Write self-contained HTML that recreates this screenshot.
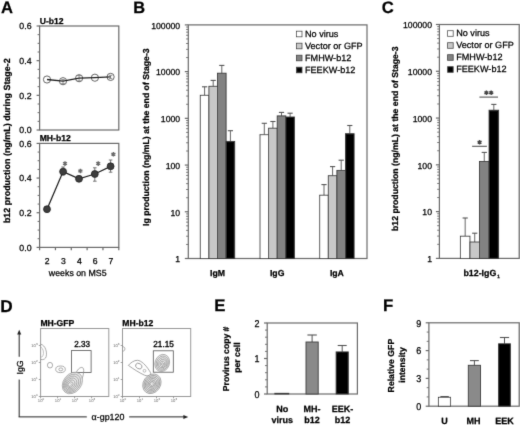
<!DOCTYPE html>
<html><head><meta charset="utf-8"><style>
html,body{margin:0;padding:0;background:#fff;}
svg{display:block;font-family:"Liberation Sans",sans-serif;text-rendering:geometricPrecision;}
</style></head><body>
<svg width="520" height="425" viewBox="0 0 520 425">
<defs><filter id="bl" x="0" y="0" width="520" height="425" filterUnits="userSpaceOnUse"><feConvolveMatrix order="3" kernelMatrix="0.0100 0.0800 0.0100 0.0800 0.6400 0.0800 0.0100 0.0800 0.0100" edgeMode="duplicate" preserveAlpha="false"/></filter></defs>
<rect width="520" height="425" fill="#fff"/>
<g filter="url(#bl)">
<text x="1.00" y="12.80" font-size="16.6" text-anchor="start" font-weight="bold" fill="#000" stroke="#000" stroke-width="0.25">A</text>
<text x="133.20" y="12.80" font-size="16.4" text-anchor="start" font-weight="bold" fill="#000" stroke="#000" stroke-width="0.25">B</text>
<text x="381.70" y="12.80" font-size="16.6" text-anchor="start" font-weight="bold" fill="#000" stroke="#000" stroke-width="0.25">C</text>
<text x="0.30" y="311.90" font-size="17.2" text-anchor="start" font-weight="bold" fill="#000" stroke="#000" stroke-width="0.25">D</text>
<text x="214.20" y="310.90" font-size="16.8" text-anchor="start" font-weight="bold" fill="#000" stroke="#000" stroke-width="0.25">E</text>
<text x="382.90" y="310.90" font-size="16.8" text-anchor="start" font-weight="bold" fill="#000" stroke="#000" stroke-width="0.25">F</text>
<rect x="39.60" y="26.00" width="79.20" height="104.00" fill="none" stroke="#6a6a6a" stroke-width="1.2"/>
<text x="39.70" y="23.70" font-size="8.6" text-anchor="start" font-weight="bold" fill="#000" stroke="#000" stroke-width="0.25">U-b12</text>
<line x1="36.60" y1="26.00" x2="39.60" y2="26.00" stroke="#6a6a6a" stroke-width="1.2"/>
<text x="31.60" y="29.20" font-size="8.8" text-anchor="end" fill="#000" stroke="#000" stroke-width="0.25">0.6</text>
<line x1="37.60" y1="34.67" x2="39.60" y2="34.67" stroke="#6a6a6a" stroke-width="1.0"/>
<line x1="37.60" y1="43.33" x2="39.60" y2="43.33" stroke="#6a6a6a" stroke-width="1.0"/>
<line x1="37.60" y1="52.00" x2="39.60" y2="52.00" stroke="#6a6a6a" stroke-width="1.0"/>
<line x1="36.60" y1="60.67" x2="39.60" y2="60.67" stroke="#6a6a6a" stroke-width="1.2"/>
<text x="31.60" y="63.87" font-size="8.8" text-anchor="end" fill="#000" stroke="#000" stroke-width="0.25">0.4</text>
<line x1="37.60" y1="69.33" x2="39.60" y2="69.33" stroke="#6a6a6a" stroke-width="1.0"/>
<line x1="37.60" y1="78.00" x2="39.60" y2="78.00" stroke="#6a6a6a" stroke-width="1.0"/>
<line x1="37.60" y1="86.67" x2="39.60" y2="86.67" stroke="#6a6a6a" stroke-width="1.0"/>
<line x1="36.60" y1="95.33" x2="39.60" y2="95.33" stroke="#6a6a6a" stroke-width="1.2"/>
<text x="31.60" y="98.53" font-size="8.8" text-anchor="end" fill="#000" stroke="#000" stroke-width="0.25">0.2</text>
<line x1="37.60" y1="104.00" x2="39.60" y2="104.00" stroke="#6a6a6a" stroke-width="1.0"/>
<line x1="37.60" y1="112.67" x2="39.60" y2="112.67" stroke="#6a6a6a" stroke-width="1.0"/>
<line x1="37.60" y1="121.33" x2="39.60" y2="121.33" stroke="#6a6a6a" stroke-width="1.0"/>
<line x1="36.60" y1="130.00" x2="39.60" y2="130.00" stroke="#6a6a6a" stroke-width="1.2"/>
<text x="31.60" y="133.20" font-size="8.8" text-anchor="end" fill="#000" stroke="#000" stroke-width="0.25">0.0</text>
<line x1="63.00" y1="79.60" x2="63.00" y2="83.60" stroke="#888" stroke-width="0.9"/>
<line x1="61.20" y1="79.60" x2="64.80" y2="79.60" stroke="#888" stroke-width="0.9"/>
<line x1="61.20" y1="83.60" x2="64.80" y2="83.60" stroke="#888" stroke-width="0.9"/>
<line x1="79.10" y1="75.60" x2="79.10" y2="80.90" stroke="#888" stroke-width="0.9"/>
<line x1="77.30" y1="75.60" x2="80.90" y2="75.60" stroke="#888" stroke-width="0.9"/>
<line x1="77.30" y1="80.90" x2="80.90" y2="80.90" stroke="#888" stroke-width="0.9"/>
<line x1="110.60" y1="75.30" x2="110.60" y2="78.60" stroke="#888" stroke-width="0.9"/>
<line x1="108.80" y1="75.30" x2="112.40" y2="75.30" stroke="#888" stroke-width="0.9"/>
<line x1="108.80" y1="78.60" x2="112.40" y2="78.60" stroke="#888" stroke-width="0.9"/>
<circle cx="47.00" cy="79.50" r="3.6" fill="none" stroke="#555" stroke-width="0.9"/>
<circle cx="63.00" cy="81.20" r="3.6" fill="none" stroke="#555" stroke-width="0.9"/>
<circle cx="79.10" cy="78.20" r="3.6" fill="none" stroke="#555" stroke-width="0.9"/>
<circle cx="94.90" cy="77.70" r="3.6" fill="none" stroke="#555" stroke-width="0.9"/>
<circle cx="110.60" cy="76.90" r="3.6" fill="none" stroke="#555" stroke-width="0.9"/>
<path d="M47.00,79.50 L63.00,81.20 L79.10,78.20 L94.90,77.70 L110.60,76.90" fill="none" stroke="#222" stroke-width="1.3"/>
<rect x="39.60" y="143.40" width="79.20" height="104.00" fill="none" stroke="#6a6a6a" stroke-width="1.2"/>
<text x="39.70" y="140.90" font-size="8.6" text-anchor="start" font-weight="bold" fill="#000" stroke="#000" stroke-width="0.25">MH-b12</text>
<line x1="36.60" y1="143.40" x2="39.60" y2="143.40" stroke="#6a6a6a" stroke-width="1.2"/>
<text x="31.60" y="146.60" font-size="8.8" text-anchor="end" fill="#000" stroke="#000" stroke-width="0.25">0.6</text>
<line x1="37.60" y1="152.07" x2="39.60" y2="152.07" stroke="#6a6a6a" stroke-width="1.0"/>
<line x1="37.60" y1="160.73" x2="39.60" y2="160.73" stroke="#6a6a6a" stroke-width="1.0"/>
<line x1="37.60" y1="169.40" x2="39.60" y2="169.40" stroke="#6a6a6a" stroke-width="1.0"/>
<line x1="36.60" y1="178.07" x2="39.60" y2="178.07" stroke="#6a6a6a" stroke-width="1.2"/>
<text x="31.60" y="181.27" font-size="8.8" text-anchor="end" fill="#000" stroke="#000" stroke-width="0.25">0.4</text>
<line x1="37.60" y1="186.73" x2="39.60" y2="186.73" stroke="#6a6a6a" stroke-width="1.0"/>
<line x1="37.60" y1="195.40" x2="39.60" y2="195.40" stroke="#6a6a6a" stroke-width="1.0"/>
<line x1="37.60" y1="204.07" x2="39.60" y2="204.07" stroke="#6a6a6a" stroke-width="1.0"/>
<line x1="36.60" y1="212.73" x2="39.60" y2="212.73" stroke="#6a6a6a" stroke-width="1.2"/>
<text x="31.60" y="215.93" font-size="8.8" text-anchor="end" fill="#000" stroke="#000" stroke-width="0.25">0.2</text>
<line x1="37.60" y1="221.40" x2="39.60" y2="221.40" stroke="#6a6a6a" stroke-width="1.0"/>
<line x1="37.60" y1="230.07" x2="39.60" y2="230.07" stroke="#6a6a6a" stroke-width="1.0"/>
<line x1="37.60" y1="238.73" x2="39.60" y2="238.73" stroke="#6a6a6a" stroke-width="1.0"/>
<line x1="36.60" y1="247.40" x2="39.60" y2="247.40" stroke="#6a6a6a" stroke-width="1.2"/>
<text x="31.60" y="250.60" font-size="8.8" text-anchor="end" fill="#000" stroke="#000" stroke-width="0.25">0.0</text>
<line x1="63.10" y1="167.00" x2="63.10" y2="175.00" stroke="#666" stroke-width="0.9"/>
<line x1="61.30" y1="167.00" x2="64.90" y2="167.00" stroke="#666" stroke-width="0.9"/>
<line x1="61.30" y1="175.00" x2="64.90" y2="175.00" stroke="#666" stroke-width="0.9"/>
<line x1="79.00" y1="176.50" x2="79.00" y2="181.50" stroke="#666" stroke-width="0.9"/>
<line x1="77.20" y1="176.50" x2="80.80" y2="176.50" stroke="#666" stroke-width="0.9"/>
<line x1="77.20" y1="181.50" x2="80.80" y2="181.50" stroke="#666" stroke-width="0.9"/>
<line x1="94.80" y1="167.80" x2="94.80" y2="181.20" stroke="#666" stroke-width="0.9"/>
<line x1="93.00" y1="167.80" x2="96.60" y2="167.80" stroke="#666" stroke-width="0.9"/>
<line x1="93.00" y1="181.20" x2="96.60" y2="181.20" stroke="#666" stroke-width="0.9"/>
<line x1="110.60" y1="160.00" x2="110.60" y2="172.20" stroke="#666" stroke-width="0.9"/>
<line x1="108.80" y1="160.00" x2="112.40" y2="160.00" stroke="#666" stroke-width="0.9"/>
<line x1="108.80" y1="172.20" x2="112.40" y2="172.20" stroke="#666" stroke-width="0.9"/>
<path d="M47.00,209.20 L63.10,171.60 L79.00,178.80 L94.80,174.00 L110.60,166.30" fill="none" stroke="#222" stroke-width="1.3"/>
<circle cx="47.00" cy="209.20" r="3.45" fill="#3c3c3c" stroke="#222" stroke-width="0.8"/>
<circle cx="63.10" cy="171.60" r="3.45" fill="#3c3c3c" stroke="#222" stroke-width="0.8"/>
<circle cx="79.00" cy="178.80" r="3.45" fill="#3c3c3c" stroke="#222" stroke-width="0.8"/>
<circle cx="94.80" cy="174.00" r="3.45" fill="#3c3c3c" stroke="#222" stroke-width="0.8"/>
<circle cx="110.60" cy="166.30" r="3.45" fill="#3c3c3c" stroke="#222" stroke-width="0.8"/>
<path d="M65.00,161.30 L65.00,165.90 M63.01,162.45 L66.99,164.75 M63.01,164.75 L66.99,162.45" stroke="#6a6a6a" stroke-width="1.4" fill="none"/>
<circle cx="65.00" cy="163.60" r="1.0" fill="#6a6a6a"/>
<path d="M80.40,168.70 L80.40,173.30 M78.41,169.85 L82.39,172.15 M78.41,172.15 L82.39,169.85" stroke="#6a6a6a" stroke-width="1.4" fill="none"/>
<circle cx="80.40" cy="171.00" r="1.0" fill="#6a6a6a"/>
<path d="M98.20,161.30 L98.20,165.90 M96.21,162.45 L100.19,164.75 M96.21,164.75 L100.19,162.45" stroke="#6a6a6a" stroke-width="1.4" fill="none"/>
<circle cx="98.20" cy="163.60" r="1.0" fill="#6a6a6a"/>
<path d="M113.40,151.90 L113.40,156.50 M111.41,153.05 L115.39,155.35 M111.41,155.35 L115.39,153.05" stroke="#6a6a6a" stroke-width="1.4" fill="none"/>
<circle cx="113.40" cy="154.20" r="1.0" fill="#6a6a6a"/>
<line x1="39.60" y1="247.40" x2="39.60" y2="250.20" stroke="#6a6a6a" stroke-width="1.2"/>
<line x1="55.44" y1="247.40" x2="55.44" y2="250.20" stroke="#6a6a6a" stroke-width="1.2"/>
<line x1="71.28" y1="247.40" x2="71.28" y2="250.20" stroke="#6a6a6a" stroke-width="1.2"/>
<line x1="87.12" y1="247.40" x2="87.12" y2="250.20" stroke="#6a6a6a" stroke-width="1.2"/>
<line x1="102.96" y1="247.40" x2="102.96" y2="250.20" stroke="#6a6a6a" stroke-width="1.2"/>
<line x1="118.80" y1="247.40" x2="118.80" y2="250.20" stroke="#6a6a6a" stroke-width="1.2"/>
<text x="47.20" y="263.80" font-size="8.6" text-anchor="middle" fill="#000" stroke="#000" stroke-width="0.25">2</text>
<text x="63.30" y="263.80" font-size="8.6" text-anchor="middle" fill="#000" stroke="#000" stroke-width="0.25">3</text>
<text x="79.30" y="263.80" font-size="8.6" text-anchor="middle" fill="#000" stroke="#000" stroke-width="0.25">4</text>
<text x="95.20" y="263.80" font-size="8.6" text-anchor="middle" fill="#000" stroke="#000" stroke-width="0.25">6</text>
<text x="110.90" y="263.80" font-size="8.6" text-anchor="middle" fill="#000" stroke="#000" stroke-width="0.25">7</text>
<text x="77.70" y="276.30" font-size="8.8" text-anchor="middle" fill="#000" stroke="#000" stroke-width="0.25">weeks on MS5</text>
<text transform="translate(9.70,140.70) rotate(-90)" x="0" y="0" font-size="8.95" text-anchor="middle" font-weight="bold" fill="#000" stroke="#000" stroke-width="0.25">b12 production (ng/mL) during Stage-2</text>
<rect x="188.30" y="24.90" width="178.70" height="233.60" fill="none" stroke="#6a6a6a" stroke-width="1.2"/>
<line x1="184.80" y1="258.50" x2="188.30" y2="258.50" stroke="#6a6a6a" stroke-width="1.2"/>
<text x="180.20" y="262.30" font-size="8.7" text-anchor="end" fill="#000" stroke="#000" stroke-width="0.25">1</text>
<line x1="186.10" y1="244.44" x2="188.30" y2="244.44" stroke="#6a6a6a" stroke-width="0.9"/>
<line x1="186.10" y1="236.21" x2="188.30" y2="236.21" stroke="#6a6a6a" stroke-width="0.9"/>
<line x1="186.10" y1="230.37" x2="188.30" y2="230.37" stroke="#6a6a6a" stroke-width="0.9"/>
<line x1="186.10" y1="225.84" x2="188.30" y2="225.84" stroke="#6a6a6a" stroke-width="0.9"/>
<line x1="186.10" y1="222.14" x2="188.30" y2="222.14" stroke="#6a6a6a" stroke-width="0.9"/>
<line x1="186.10" y1="219.02" x2="188.30" y2="219.02" stroke="#6a6a6a" stroke-width="0.9"/>
<line x1="186.10" y1="216.31" x2="188.30" y2="216.31" stroke="#6a6a6a" stroke-width="0.9"/>
<line x1="186.10" y1="213.92" x2="188.30" y2="213.92" stroke="#6a6a6a" stroke-width="0.9"/>
<line x1="184.80" y1="211.78" x2="188.30" y2="211.78" stroke="#6a6a6a" stroke-width="1.2"/>
<text x="180.20" y="215.58" font-size="8.7" text-anchor="end" fill="#000" stroke="#000" stroke-width="0.25">10</text>
<line x1="186.10" y1="197.72" x2="188.30" y2="197.72" stroke="#6a6a6a" stroke-width="0.9"/>
<line x1="186.10" y1="189.49" x2="188.30" y2="189.49" stroke="#6a6a6a" stroke-width="0.9"/>
<line x1="186.10" y1="183.65" x2="188.30" y2="183.65" stroke="#6a6a6a" stroke-width="0.9"/>
<line x1="186.10" y1="179.12" x2="188.30" y2="179.12" stroke="#6a6a6a" stroke-width="0.9"/>
<line x1="186.10" y1="175.42" x2="188.30" y2="175.42" stroke="#6a6a6a" stroke-width="0.9"/>
<line x1="186.10" y1="172.30" x2="188.30" y2="172.30" stroke="#6a6a6a" stroke-width="0.9"/>
<line x1="186.10" y1="169.59" x2="188.30" y2="169.59" stroke="#6a6a6a" stroke-width="0.9"/>
<line x1="186.10" y1="167.20" x2="188.30" y2="167.20" stroke="#6a6a6a" stroke-width="0.9"/>
<line x1="184.80" y1="165.06" x2="188.30" y2="165.06" stroke="#6a6a6a" stroke-width="1.2"/>
<text x="180.20" y="168.86" font-size="8.7" text-anchor="end" fill="#000" stroke="#000" stroke-width="0.25">100</text>
<line x1="186.10" y1="151.00" x2="188.30" y2="151.00" stroke="#6a6a6a" stroke-width="0.9"/>
<line x1="186.10" y1="142.77" x2="188.30" y2="142.77" stroke="#6a6a6a" stroke-width="0.9"/>
<line x1="186.10" y1="136.93" x2="188.30" y2="136.93" stroke="#6a6a6a" stroke-width="0.9"/>
<line x1="186.10" y1="132.40" x2="188.30" y2="132.40" stroke="#6a6a6a" stroke-width="0.9"/>
<line x1="186.10" y1="128.70" x2="188.30" y2="128.70" stroke="#6a6a6a" stroke-width="0.9"/>
<line x1="186.10" y1="125.58" x2="188.30" y2="125.58" stroke="#6a6a6a" stroke-width="0.9"/>
<line x1="186.10" y1="122.87" x2="188.30" y2="122.87" stroke="#6a6a6a" stroke-width="0.9"/>
<line x1="186.10" y1="120.48" x2="188.30" y2="120.48" stroke="#6a6a6a" stroke-width="0.9"/>
<line x1="184.80" y1="118.34" x2="188.30" y2="118.34" stroke="#6a6a6a" stroke-width="1.2"/>
<text x="180.20" y="122.14" font-size="8.7" text-anchor="end" fill="#000" stroke="#000" stroke-width="0.25">1000</text>
<line x1="186.10" y1="104.28" x2="188.30" y2="104.28" stroke="#6a6a6a" stroke-width="0.9"/>
<line x1="186.10" y1="96.05" x2="188.30" y2="96.05" stroke="#6a6a6a" stroke-width="0.9"/>
<line x1="186.10" y1="90.21" x2="188.30" y2="90.21" stroke="#6a6a6a" stroke-width="0.9"/>
<line x1="186.10" y1="85.68" x2="188.30" y2="85.68" stroke="#6a6a6a" stroke-width="0.9"/>
<line x1="186.10" y1="81.98" x2="188.30" y2="81.98" stroke="#6a6a6a" stroke-width="0.9"/>
<line x1="186.10" y1="78.86" x2="188.30" y2="78.86" stroke="#6a6a6a" stroke-width="0.9"/>
<line x1="186.10" y1="76.15" x2="188.30" y2="76.15" stroke="#6a6a6a" stroke-width="0.9"/>
<line x1="186.10" y1="73.76" x2="188.30" y2="73.76" stroke="#6a6a6a" stroke-width="0.9"/>
<line x1="184.80" y1="71.62" x2="188.30" y2="71.62" stroke="#6a6a6a" stroke-width="1.2"/>
<text x="180.20" y="75.42" font-size="8.7" text-anchor="end" fill="#000" stroke="#000" stroke-width="0.25">10000</text>
<line x1="186.10" y1="57.56" x2="188.30" y2="57.56" stroke="#6a6a6a" stroke-width="0.9"/>
<line x1="186.10" y1="49.33" x2="188.30" y2="49.33" stroke="#6a6a6a" stroke-width="0.9"/>
<line x1="186.10" y1="43.49" x2="188.30" y2="43.49" stroke="#6a6a6a" stroke-width="0.9"/>
<line x1="186.10" y1="38.96" x2="188.30" y2="38.96" stroke="#6a6a6a" stroke-width="0.9"/>
<line x1="186.10" y1="35.26" x2="188.30" y2="35.26" stroke="#6a6a6a" stroke-width="0.9"/>
<line x1="186.10" y1="32.14" x2="188.30" y2="32.14" stroke="#6a6a6a" stroke-width="0.9"/>
<line x1="186.10" y1="29.43" x2="188.30" y2="29.43" stroke="#6a6a6a" stroke-width="0.9"/>
<line x1="186.10" y1="27.04" x2="188.30" y2="27.04" stroke="#6a6a6a" stroke-width="0.9"/>
<line x1="184.80" y1="24.90" x2="188.30" y2="24.90" stroke="#6a6a6a" stroke-width="1.2"/>
<text x="180.20" y="28.70" font-size="8.7" text-anchor="end" fill="#000" stroke="#000" stroke-width="0.25">100000</text>
<line x1="204.60" y1="86.80" x2="204.60" y2="95.30" stroke="#666" stroke-width="1.0"/>
<line x1="202.00" y1="86.80" x2="207.20" y2="86.80" stroke="#555" stroke-width="1.1"/>
<rect x="200.30" y="95.30" width="8.60" height="163.20" fill="#ffffff" stroke="#3a3a3a" stroke-width="0.9"/>
<line x1="213.20" y1="80.40" x2="213.20" y2="86.30" stroke="#666" stroke-width="1.0"/>
<line x1="210.60" y1="80.40" x2="215.80" y2="80.40" stroke="#555" stroke-width="1.1"/>
<rect x="208.90" y="86.30" width="8.60" height="172.20" fill="#c8c8c8" stroke="#3a3a3a" stroke-width="0.9"/>
<line x1="221.80" y1="65.40" x2="221.80" y2="73.20" stroke="#666" stroke-width="1.0"/>
<line x1="219.20" y1="65.40" x2="224.40" y2="65.40" stroke="#555" stroke-width="1.1"/>
<rect x="217.50" y="73.20" width="8.60" height="185.30" fill="#828282" stroke="#3a3a3a" stroke-width="0.9"/>
<line x1="230.40" y1="130.70" x2="230.40" y2="141.40" stroke="#666" stroke-width="1.0"/>
<line x1="227.80" y1="130.70" x2="233.00" y2="130.70" stroke="#555" stroke-width="1.1"/>
<rect x="226.10" y="141.40" width="8.60" height="117.10" fill="#000000" stroke="#3a3a3a" stroke-width="0.9"/>
<line x1="264.30" y1="123.30" x2="264.30" y2="134.70" stroke="#666" stroke-width="1.0"/>
<line x1="261.70" y1="123.30" x2="266.90" y2="123.30" stroke="#555" stroke-width="1.1"/>
<rect x="260.00" y="134.70" width="8.60" height="123.80" fill="#ffffff" stroke="#3a3a3a" stroke-width="0.9"/>
<line x1="272.90" y1="121.50" x2="272.90" y2="128.20" stroke="#666" stroke-width="1.0"/>
<line x1="270.30" y1="121.50" x2="275.50" y2="121.50" stroke="#555" stroke-width="1.1"/>
<rect x="268.60" y="128.20" width="8.60" height="130.30" fill="#c8c8c8" stroke="#3a3a3a" stroke-width="0.9"/>
<line x1="281.50" y1="112.40" x2="281.50" y2="115.90" stroke="#666" stroke-width="1.0"/>
<line x1="278.90" y1="112.40" x2="284.10" y2="112.40" stroke="#555" stroke-width="1.1"/>
<rect x="277.20" y="115.90" width="8.60" height="142.60" fill="#828282" stroke="#3a3a3a" stroke-width="0.9"/>
<line x1="290.10" y1="113.20" x2="290.10" y2="117.00" stroke="#666" stroke-width="1.0"/>
<line x1="287.50" y1="113.20" x2="292.70" y2="113.20" stroke="#555" stroke-width="1.1"/>
<rect x="285.80" y="117.00" width="8.60" height="141.50" fill="#000000" stroke="#3a3a3a" stroke-width="0.9"/>
<line x1="324.00" y1="184.60" x2="324.00" y2="195.20" stroke="#666" stroke-width="1.0"/>
<line x1="321.40" y1="184.60" x2="326.60" y2="184.60" stroke="#555" stroke-width="1.1"/>
<rect x="319.70" y="195.20" width="8.60" height="63.30" fill="#ffffff" stroke="#3a3a3a" stroke-width="0.9"/>
<line x1="332.60" y1="166.60" x2="332.60" y2="175.70" stroke="#666" stroke-width="1.0"/>
<line x1="330.00" y1="166.60" x2="335.20" y2="166.60" stroke="#555" stroke-width="1.1"/>
<rect x="328.30" y="175.70" width="8.60" height="82.80" fill="#c8c8c8" stroke="#3a3a3a" stroke-width="0.9"/>
<line x1="341.20" y1="160.20" x2="341.20" y2="170.40" stroke="#666" stroke-width="1.0"/>
<line x1="338.60" y1="160.20" x2="343.80" y2="160.20" stroke="#555" stroke-width="1.1"/>
<rect x="336.90" y="170.40" width="8.60" height="88.10" fill="#828282" stroke="#3a3a3a" stroke-width="0.9"/>
<line x1="349.80" y1="125.50" x2="349.80" y2="133.70" stroke="#666" stroke-width="1.0"/>
<line x1="347.20" y1="125.50" x2="352.40" y2="125.50" stroke="#555" stroke-width="1.1"/>
<rect x="345.50" y="133.70" width="8.60" height="124.80" fill="#000000" stroke="#3a3a3a" stroke-width="0.9"/>
<text x="217.50" y="276.00" font-size="8.7" text-anchor="middle" font-weight="bold" fill="#000" stroke="#000" stroke-width="0.25">IgM</text>
<text x="277.20" y="276.00" font-size="8.7" text-anchor="middle" font-weight="bold" fill="#000" stroke="#000" stroke-width="0.25">IgG</text>
<text x="336.90" y="276.00" font-size="8.7" text-anchor="middle" font-weight="bold" fill="#000" stroke="#000" stroke-width="0.25">IgA</text>
<text transform="translate(149.00,137.20) rotate(-90)" x="0" y="0" font-size="8.7" text-anchor="middle" font-weight="bold" fill="#000" stroke="#000" stroke-width="0.25">Ig production (ng/mL) at the end of Stage-3</text>
<rect x="296.40" y="31.20" width="5.6" height="5.6" fill="#ffffff" stroke="#444" stroke-width="0.8"/>
<text x="305.00" y="36.80" font-size="9.1" text-anchor="start" fill="#000" stroke="#000" stroke-width="0.25">No virus</text>
<rect x="296.40" y="43.20" width="5.6" height="5.6" fill="#c8c8c8" stroke="#444" stroke-width="0.8"/>
<text x="305.00" y="48.80" font-size="9.1" text-anchor="start" fill="#000" stroke="#000" stroke-width="0.25">Vector or GFP</text>
<rect x="296.40" y="55.20" width="5.6" height="5.6" fill="#828282" stroke="#444" stroke-width="0.8"/>
<text x="305.00" y="60.80" font-size="9.1" text-anchor="start" fill="#000" stroke="#000" stroke-width="0.25">FMHW-b12</text>
<rect x="296.40" y="67.20" width="5.6" height="5.6" fill="#000000" stroke="#444" stroke-width="0.8"/>
<text x="305.00" y="72.80" font-size="9.1" text-anchor="start" fill="#000" stroke="#000" stroke-width="0.25">FEEKW-b12</text>
<rect x="439.40" y="24.50" width="79.80" height="233.90" fill="none" stroke="#6a6a6a" stroke-width="1.2"/>
<line x1="435.90" y1="258.40" x2="439.40" y2="258.40" stroke="#6a6a6a" stroke-width="1.2"/>
<text x="432.00" y="262.20" font-size="8.7" text-anchor="end" fill="#000" stroke="#000" stroke-width="0.25">1</text>
<line x1="437.20" y1="244.32" x2="439.40" y2="244.32" stroke="#6a6a6a" stroke-width="0.9"/>
<line x1="437.20" y1="236.08" x2="439.40" y2="236.08" stroke="#6a6a6a" stroke-width="0.9"/>
<line x1="437.20" y1="230.24" x2="439.40" y2="230.24" stroke="#6a6a6a" stroke-width="0.9"/>
<line x1="437.20" y1="225.70" x2="439.40" y2="225.70" stroke="#6a6a6a" stroke-width="0.9"/>
<line x1="437.20" y1="222.00" x2="439.40" y2="222.00" stroke="#6a6a6a" stroke-width="0.9"/>
<line x1="437.20" y1="218.87" x2="439.40" y2="218.87" stroke="#6a6a6a" stroke-width="0.9"/>
<line x1="437.20" y1="216.15" x2="439.40" y2="216.15" stroke="#6a6a6a" stroke-width="0.9"/>
<line x1="437.20" y1="213.76" x2="439.40" y2="213.76" stroke="#6a6a6a" stroke-width="0.9"/>
<line x1="435.90" y1="211.62" x2="439.40" y2="211.62" stroke="#6a6a6a" stroke-width="1.2"/>
<text x="432.00" y="215.42" font-size="8.7" text-anchor="end" fill="#000" stroke="#000" stroke-width="0.25">10</text>
<line x1="437.20" y1="197.54" x2="439.40" y2="197.54" stroke="#6a6a6a" stroke-width="0.9"/>
<line x1="437.20" y1="189.30" x2="439.40" y2="189.30" stroke="#6a6a6a" stroke-width="0.9"/>
<line x1="437.20" y1="183.46" x2="439.40" y2="183.46" stroke="#6a6a6a" stroke-width="0.9"/>
<line x1="437.20" y1="178.92" x2="439.40" y2="178.92" stroke="#6a6a6a" stroke-width="0.9"/>
<line x1="437.20" y1="175.22" x2="439.40" y2="175.22" stroke="#6a6a6a" stroke-width="0.9"/>
<line x1="437.20" y1="172.09" x2="439.40" y2="172.09" stroke="#6a6a6a" stroke-width="0.9"/>
<line x1="437.20" y1="169.37" x2="439.40" y2="169.37" stroke="#6a6a6a" stroke-width="0.9"/>
<line x1="437.20" y1="166.98" x2="439.40" y2="166.98" stroke="#6a6a6a" stroke-width="0.9"/>
<line x1="435.90" y1="164.84" x2="439.40" y2="164.84" stroke="#6a6a6a" stroke-width="1.2"/>
<text x="432.00" y="168.64" font-size="8.7" text-anchor="end" fill="#000" stroke="#000" stroke-width="0.25">100</text>
<line x1="437.20" y1="150.76" x2="439.40" y2="150.76" stroke="#6a6a6a" stroke-width="0.9"/>
<line x1="437.20" y1="142.52" x2="439.40" y2="142.52" stroke="#6a6a6a" stroke-width="0.9"/>
<line x1="437.20" y1="136.68" x2="439.40" y2="136.68" stroke="#6a6a6a" stroke-width="0.9"/>
<line x1="437.20" y1="132.14" x2="439.40" y2="132.14" stroke="#6a6a6a" stroke-width="0.9"/>
<line x1="437.20" y1="128.44" x2="439.40" y2="128.44" stroke="#6a6a6a" stroke-width="0.9"/>
<line x1="437.20" y1="125.31" x2="439.40" y2="125.31" stroke="#6a6a6a" stroke-width="0.9"/>
<line x1="437.20" y1="122.59" x2="439.40" y2="122.59" stroke="#6a6a6a" stroke-width="0.9"/>
<line x1="437.20" y1="120.20" x2="439.40" y2="120.20" stroke="#6a6a6a" stroke-width="0.9"/>
<line x1="435.90" y1="118.06" x2="439.40" y2="118.06" stroke="#6a6a6a" stroke-width="1.2"/>
<text x="432.00" y="121.86" font-size="8.7" text-anchor="end" fill="#000" stroke="#000" stroke-width="0.25">1000</text>
<line x1="437.20" y1="103.98" x2="439.40" y2="103.98" stroke="#6a6a6a" stroke-width="0.9"/>
<line x1="437.20" y1="95.74" x2="439.40" y2="95.74" stroke="#6a6a6a" stroke-width="0.9"/>
<line x1="437.20" y1="89.90" x2="439.40" y2="89.90" stroke="#6a6a6a" stroke-width="0.9"/>
<line x1="437.20" y1="85.36" x2="439.40" y2="85.36" stroke="#6a6a6a" stroke-width="0.9"/>
<line x1="437.20" y1="81.66" x2="439.40" y2="81.66" stroke="#6a6a6a" stroke-width="0.9"/>
<line x1="437.20" y1="78.53" x2="439.40" y2="78.53" stroke="#6a6a6a" stroke-width="0.9"/>
<line x1="437.20" y1="75.81" x2="439.40" y2="75.81" stroke="#6a6a6a" stroke-width="0.9"/>
<line x1="437.20" y1="73.42" x2="439.40" y2="73.42" stroke="#6a6a6a" stroke-width="0.9"/>
<line x1="435.90" y1="71.28" x2="439.40" y2="71.28" stroke="#6a6a6a" stroke-width="1.2"/>
<text x="432.00" y="75.08" font-size="8.7" text-anchor="end" fill="#000" stroke="#000" stroke-width="0.25">10000</text>
<line x1="437.20" y1="57.20" x2="439.40" y2="57.20" stroke="#6a6a6a" stroke-width="0.9"/>
<line x1="437.20" y1="48.96" x2="439.40" y2="48.96" stroke="#6a6a6a" stroke-width="0.9"/>
<line x1="437.20" y1="43.12" x2="439.40" y2="43.12" stroke="#6a6a6a" stroke-width="0.9"/>
<line x1="437.20" y1="38.58" x2="439.40" y2="38.58" stroke="#6a6a6a" stroke-width="0.9"/>
<line x1="437.20" y1="34.88" x2="439.40" y2="34.88" stroke="#6a6a6a" stroke-width="0.9"/>
<line x1="437.20" y1="31.75" x2="439.40" y2="31.75" stroke="#6a6a6a" stroke-width="0.9"/>
<line x1="437.20" y1="29.03" x2="439.40" y2="29.03" stroke="#6a6a6a" stroke-width="0.9"/>
<line x1="437.20" y1="26.64" x2="439.40" y2="26.64" stroke="#6a6a6a" stroke-width="0.9"/>
<line x1="435.90" y1="24.50" x2="439.40" y2="24.50" stroke="#6a6a6a" stroke-width="1.2"/>
<text x="432.00" y="28.30" font-size="8.7" text-anchor="end" fill="#000" stroke="#000" stroke-width="0.25">100000</text>
<line x1="465.17" y1="218.00" x2="465.17" y2="236.20" stroke="#666" stroke-width="1.0"/>
<line x1="462.57" y1="218.00" x2="467.77" y2="218.00" stroke="#555" stroke-width="1.1"/>
<rect x="460.40" y="236.20" width="9.55" height="22.20" fill="#ffffff" stroke="#3a3a3a" stroke-width="0.9"/>
<line x1="474.72" y1="233.20" x2="474.72" y2="242.00" stroke="#666" stroke-width="1.0"/>
<line x1="472.12" y1="233.20" x2="477.32" y2="233.20" stroke="#555" stroke-width="1.1"/>
<rect x="469.95" y="242.00" width="9.55" height="16.40" fill="#c8c8c8" stroke="#3a3a3a" stroke-width="0.9"/>
<line x1="484.27" y1="152.40" x2="484.27" y2="161.50" stroke="#666" stroke-width="1.0"/>
<line x1="481.67" y1="152.40" x2="486.88" y2="152.40" stroke="#555" stroke-width="1.1"/>
<rect x="479.50" y="161.50" width="9.55" height="96.90" fill="#828282" stroke="#3a3a3a" stroke-width="0.9"/>
<line x1="493.82" y1="104.40" x2="493.82" y2="110.20" stroke="#666" stroke-width="1.0"/>
<line x1="491.22" y1="104.40" x2="496.42" y2="104.40" stroke="#555" stroke-width="1.1"/>
<rect x="489.05" y="110.20" width="9.55" height="148.20" fill="#000000" stroke="#3a3a3a" stroke-width="0.9"/>
<rect x="447.60" y="30.70" width="5.6" height="5.6" fill="#ffffff" stroke="#444" stroke-width="0.8"/>
<text x="456.20" y="36.30" font-size="9.1" text-anchor="start" fill="#000" stroke="#000" stroke-width="0.25">No virus</text>
<rect x="447.60" y="42.70" width="5.6" height="5.6" fill="#c8c8c8" stroke="#444" stroke-width="0.8"/>
<text x="456.20" y="48.30" font-size="9.1" text-anchor="start" fill="#000" stroke="#000" stroke-width="0.25">Vector or GFP</text>
<rect x="447.60" y="54.70" width="5.6" height="5.6" fill="#828282" stroke="#444" stroke-width="0.8"/>
<text x="456.20" y="60.30" font-size="9.1" text-anchor="start" fill="#000" stroke="#000" stroke-width="0.25">FMHW-b12</text>
<rect x="447.60" y="66.70" width="5.6" height="5.6" fill="#000000" stroke="#444" stroke-width="0.8"/>
<text x="456.20" y="72.30" font-size="9.1" text-anchor="start" fill="#000" stroke="#000" stroke-width="0.25">FEEKW-b12</text>
<line x1="479.40" y1="97.10" x2="498.00" y2="97.10" stroke="#555" stroke-width="1.1"/>
<path d="M486.40,90.50 L486.40,95.10 M484.41,91.65 L488.39,93.95 M484.41,93.95 L488.39,91.65" stroke="#444" stroke-width="1.4" fill="none"/>
<circle cx="486.40" cy="92.80" r="1.0" fill="#444"/>
<path d="M491.20,90.50 L491.20,95.10 M489.21,91.65 L493.19,93.95 M489.21,93.95 L493.19,91.65" stroke="#444" stroke-width="1.4" fill="none"/>
<circle cx="491.20" cy="92.80" r="1.0" fill="#444"/>
<line x1="472.10" y1="146.30" x2="486.90" y2="146.30" stroke="#555" stroke-width="1.1"/>
<path d="M479.60,140.00 L479.60,144.60 M477.61,141.15 L481.59,143.45 M477.61,143.45 L481.59,141.15" stroke="#444" stroke-width="1.4" fill="none"/>
<circle cx="479.60" cy="142.30" r="1.0" fill="#444"/>
<text x="463.40" y="275.90" font-size="8.85" text-anchor="start" font-weight="bold" fill="#000" stroke="#000" stroke-width="0.25">b12-IgG</text>
<text x="497.20" y="277.60" font-size="4.6" text-anchor="start" font-weight="bold" fill="#000" stroke="#000" stroke-width="0.25">1</text>
<text transform="translate(398.00,138.70) rotate(-90)" x="0" y="0" font-size="8.68" text-anchor="middle" font-weight="bold" fill="#000" stroke="#000" stroke-width="0.25">b12 production (ng/mL) at the end of Stage-3</text>
<rect x="40.60" y="328.50" width="68.20" height="68.00" fill="none" stroke="#999" stroke-width="1.0"/>
<text x="40.40" y="326.20" font-size="8.6" text-anchor="start" font-weight="bold" fill="#000" stroke="#000" stroke-width="0.25">MH-GFP</text>
<line x1="38.80" y1="396.50" x2="40.60" y2="396.50" stroke="#888" stroke-width="0.8"/>
<text x="37.60" y="398.00" font-size="4.2" text-anchor="end" fill="#666">10<tspan dy="-1.6" font-size="3.0">0</tspan></text>
<line x1="40.60" y1="396.50" x2="40.60" y2="398.30" stroke="#888" stroke-width="0.8"/>
<text x="41.00" y="402.00" font-size="4.2" text-anchor="middle" fill="#666">10<tspan dy="-1.6" font-size="3.0">0</tspan></text>
<line x1="38.80" y1="379.50" x2="40.60" y2="379.50" stroke="#888" stroke-width="0.8"/>
<text x="37.60" y="381.00" font-size="4.2" text-anchor="end" fill="#666">10<tspan dy="-1.6" font-size="3.0">1</tspan></text>
<line x1="57.60" y1="396.50" x2="57.60" y2="398.30" stroke="#888" stroke-width="0.8"/>
<text x="58.00" y="402.00" font-size="4.2" text-anchor="middle" fill="#666">10<tspan dy="-1.6" font-size="3.0">1</tspan></text>
<line x1="38.80" y1="362.50" x2="40.60" y2="362.50" stroke="#888" stroke-width="0.8"/>
<text x="37.60" y="364.00" font-size="4.2" text-anchor="end" fill="#666">10<tspan dy="-1.6" font-size="3.0">2</tspan></text>
<line x1="74.60" y1="396.50" x2="74.60" y2="398.30" stroke="#888" stroke-width="0.8"/>
<text x="75.00" y="402.00" font-size="4.2" text-anchor="middle" fill="#666">10<tspan dy="-1.6" font-size="3.0">2</tspan></text>
<line x1="38.80" y1="345.50" x2="40.60" y2="345.50" stroke="#888" stroke-width="0.8"/>
<text x="37.60" y="347.00" font-size="4.2" text-anchor="end" fill="#666">10<tspan dy="-1.6" font-size="3.0">3</tspan></text>
<line x1="91.60" y1="396.50" x2="91.60" y2="398.30" stroke="#888" stroke-width="0.8"/>
<text x="92.00" y="402.00" font-size="4.2" text-anchor="middle" fill="#666">10<tspan dy="-1.6" font-size="3.0">3</tspan></text>
<rect x="122.50" y="328.50" width="68.20" height="68.00" fill="none" stroke="#999" stroke-width="1.0"/>
<text x="122.30" y="326.20" font-size="8.6" text-anchor="start" font-weight="bold" fill="#000" stroke="#000" stroke-width="0.25">MH-b12</text>
<line x1="120.70" y1="396.50" x2="122.50" y2="396.50" stroke="#888" stroke-width="0.8"/>
<text x="119.50" y="398.00" font-size="4.2" text-anchor="end" fill="#666">10<tspan dy="-1.6" font-size="3.0">0</tspan></text>
<line x1="122.50" y1="396.50" x2="122.50" y2="398.30" stroke="#888" stroke-width="0.8"/>
<text x="122.90" y="402.00" font-size="4.2" text-anchor="middle" fill="#666">10<tspan dy="-1.6" font-size="3.0">0</tspan></text>
<line x1="120.70" y1="379.50" x2="122.50" y2="379.50" stroke="#888" stroke-width="0.8"/>
<text x="119.50" y="381.00" font-size="4.2" text-anchor="end" fill="#666">10<tspan dy="-1.6" font-size="3.0">1</tspan></text>
<line x1="139.50" y1="396.50" x2="139.50" y2="398.30" stroke="#888" stroke-width="0.8"/>
<text x="139.90" y="402.00" font-size="4.2" text-anchor="middle" fill="#666">10<tspan dy="-1.6" font-size="3.0">1</tspan></text>
<line x1="120.70" y1="362.50" x2="122.50" y2="362.50" stroke="#888" stroke-width="0.8"/>
<text x="119.50" y="364.00" font-size="4.2" text-anchor="end" fill="#666">10<tspan dy="-1.6" font-size="3.0">2</tspan></text>
<line x1="156.50" y1="396.50" x2="156.50" y2="398.30" stroke="#888" stroke-width="0.8"/>
<text x="156.90" y="402.00" font-size="4.2" text-anchor="middle" fill="#666">10<tspan dy="-1.6" font-size="3.0">2</tspan></text>
<line x1="120.70" y1="345.50" x2="122.50" y2="345.50" stroke="#888" stroke-width="0.8"/>
<text x="119.50" y="347.00" font-size="4.2" text-anchor="end" fill="#666">10<tspan dy="-1.6" font-size="3.0">3</tspan></text>
<line x1="173.50" y1="396.50" x2="173.50" y2="398.30" stroke="#888" stroke-width="0.8"/>
<text x="173.90" y="402.00" font-size="4.2" text-anchor="middle" fill="#666">10<tspan dy="-1.6" font-size="3.0">3</tspan></text>
<rect x="71.40" y="350.60" width="19.70" height="21.90" fill="none" stroke="#555" stroke-width="0.8"/>
<rect x="153.30" y="350.80" width="20.00" height="21.40" fill="none" stroke="#555" stroke-width="0.8"/>
<text x="74.20" y="347.10" font-size="8.7" text-anchor="start" fill="#000" stroke="#000" stroke-width="0.35" textLength="15.8" lengthAdjust="spacingAndGlyphs">2.33</text>
<text x="153.30" y="347.20" font-size="8.7" text-anchor="start" fill="#000" stroke="#000" stroke-width="0.35" textLength="20.6" lengthAdjust="spacingAndGlyphs">21.15</text>
<path d="M40.8,344.2 C45.5,345.5 47.2,352 46.2,356.5 C45.6,359 43.5,360 40.8,359.5" fill="none" stroke="#888" stroke-width="0.7"/>
<path d="M40.8,347 C43.5,348.5 44,353 43,355.5 C42.5,357 41.5,357.2 40.8,356.8" fill="none" stroke="#999" stroke-width="0.6"/>
<ellipse cx="50.0" cy="365.2" rx="2.6" ry="2.8" fill="none" stroke="#888" stroke-width="0.7"/>
<ellipse cx="60.5" cy="369.3" rx="4.8" ry="3.3" fill="none" stroke="#888" stroke-width="0.7"/>
<ellipse cx="60.8" cy="369.4" rx="2.0" ry="1.5" fill="none" stroke="#888" stroke-width="0.7"/>
<path d="M76.0,373.5 C77,370 79.5,367.4 81.8,367.4 C83.6,367.6 84,369.5 83.6,372 C83.3,375 82.8,377.5 81.5,379.5" fill="none" stroke="#888" stroke-width="0.7"/>
<ellipse cx="72.4" cy="383.0" rx="11.8" ry="9.0" transform="rotate(-52 72.4 383.0)" fill="#e6e6e6"/>
<ellipse cx="72.40" cy="383.00" rx="11.80" ry="9.00" transform="rotate(-52 72.40 383.00)" fill="none" stroke="#8e8e8e" stroke-width="0.6"/>
<ellipse cx="71.99" cy="383.35" rx="10.07" ry="7.68" transform="rotate(-52 71.99 383.35)" fill="none" stroke="#8e8e8e" stroke-width="0.6"/>
<ellipse cx="71.58" cy="383.70" rx="8.34" ry="6.36" transform="rotate(-52 71.58 383.70)" fill="none" stroke="#8e8e8e" stroke-width="0.6"/>
<ellipse cx="71.17" cy="384.06" rx="6.61" ry="5.04" transform="rotate(-52 71.17 384.06)" fill="none" stroke="#8e8e8e" stroke-width="0.6"/>
<ellipse cx="70.76" cy="384.41" rx="4.88" ry="3.72" transform="rotate(-52 70.76 384.41)" fill="none" stroke="#8e8e8e" stroke-width="0.6"/>
<ellipse cx="70.35" cy="384.76" rx="3.15" ry="2.40" transform="rotate(-52 70.35 384.76)" fill="none" stroke="#8e8e8e" stroke-width="0.6"/>
<ellipse cx="69.94" cy="385.11" rx="1.42" ry="1.08" transform="rotate(-52 69.94 385.11)" fill="none" stroke="#8e8e8e" stroke-width="0.6"/>
<circle cx="69.9" cy="384.5" r="1.1" fill="#eee"/>
<path d="M122.7,346.5 C124.6,346.8 125.4,348.5 124.7,350 C124.2,351 123.3,351.2 122.7,351" fill="none" stroke="#888" stroke-width="0.7"/>
<path d="M128.4,365.4 C130.5,362.8 134,360.2 137.5,360.3 C141.2,360.5 146,365.3 149.3,370.6 C150.3,372.2 151,373.4 150.6,374.4 C149.2,376 146.5,376.2 144.5,375.2 C139.8,373 134.2,369.6 128.4,365.4 Z" fill="none" stroke="#888" stroke-width="0.75"/>
<ellipse cx="138.8" cy="366.1" rx="3.4" ry="2.6" transform="rotate(30 138.8 366.1)" fill="none" stroke="#888" stroke-width="0.75"/>
<circle cx="144.5" cy="370.8" r="1.4" fill="none" stroke="#999" stroke-width="0.65"/>
<ellipse cx="151.9" cy="383.8" rx="10.4" ry="8.6" transform="rotate(-55 151.9 383.8)" fill="#e4e4e4"/>
<ellipse cx="151.90" cy="383.80" rx="10.40" ry="8.60" transform="rotate(-55 151.90 383.80)" fill="none" stroke="#848484" stroke-width="0.6"/>
<ellipse cx="151.89" cy="383.86" rx="8.87" ry="7.34" transform="rotate(-55 151.89 383.86)" fill="none" stroke="#848484" stroke-width="0.6"/>
<ellipse cx="151.87" cy="383.92" rx="7.35" ry="6.08" transform="rotate(-55 151.87 383.92)" fill="none" stroke="#848484" stroke-width="0.6"/>
<ellipse cx="151.86" cy="383.98" rx="5.82" ry="4.82" transform="rotate(-55 151.86 383.98)" fill="none" stroke="#848484" stroke-width="0.6"/>
<ellipse cx="151.84" cy="384.03" rx="4.30" ry="3.55" transform="rotate(-55 151.84 384.03)" fill="none" stroke="#848484" stroke-width="0.6"/>
<ellipse cx="151.83" cy="384.09" rx="2.77" ry="2.29" transform="rotate(-55 151.83 384.09)" fill="none" stroke="#848484" stroke-width="0.6"/>
<ellipse cx="151.81" cy="384.15" rx="1.25" ry="1.03" transform="rotate(-55 151.81 384.15)" fill="none" stroke="#848484" stroke-width="0.6"/>
<circle cx="151.9" cy="384.1" r="1.0" fill="#eee"/>
<ellipse cx="162.2" cy="363.0" rx="8.8" ry="7.2" transform="rotate(-70 162.2 363.0)" fill="#ececec"/>
<ellipse cx="162.20" cy="363.00" rx="8.80" ry="7.20" transform="rotate(-70 162.20 363.00)" fill="none" stroke="#8a8a8a" stroke-width="0.6"/>
<ellipse cx="162.27" cy="363.21" rx="7.29" ry="5.96" transform="rotate(-70 162.27 363.21)" fill="none" stroke="#8a8a8a" stroke-width="0.6"/>
<ellipse cx="162.34" cy="363.41" rx="5.77" ry="4.72" transform="rotate(-70 162.34 363.41)" fill="none" stroke="#8a8a8a" stroke-width="0.6"/>
<ellipse cx="162.41" cy="363.62" rx="4.26" ry="3.48" transform="rotate(-70 162.41 363.62)" fill="none" stroke="#8a8a8a" stroke-width="0.6"/>
<ellipse cx="162.48" cy="363.83" rx="2.75" ry="2.25" transform="rotate(-70 162.48 363.83)" fill="none" stroke="#8a8a8a" stroke-width="0.6"/>
<ellipse cx="162.54" cy="364.03" rx="1.23" ry="1.01" transform="rotate(-70 162.54 364.03)" fill="none" stroke="#8a8a8a" stroke-width="0.6"/>
<path d="M19.2,416.9 V379.6 M19.2,356.8 V333.5" stroke="#222" stroke-width="1.0" fill="none"/>
<path d="M17.2,334.6 L19.2,329.8 L21.2,334.6 Z" fill="#222"/>
<path d="M18.7,416.9 H86.8 M129.2,416.9 H184.4" stroke="#222" stroke-width="1.0" fill="none"/>
<path d="M183.4,414.9 L188.2,416.9 L183.4,418.9 Z" fill="#222"/>
<text transform="translate(22.60,367.40) rotate(-90)" x="0" y="0" font-size="8.75" text-anchor="middle" fill="#000" stroke="#000" stroke-width="0.25">IgG</text>
<text x="108.00" y="419.90" font-size="8.9" text-anchor="middle" fill="#000" stroke="#000" stroke-width="0.25">α-gp120</text>
<rect x="267.20" y="323.00" width="90.20" height="71.00" fill="none" stroke="#6a6a6a" stroke-width="1.2"/>
<line x1="264.00" y1="394.00" x2="267.20" y2="394.00" stroke="#6a6a6a" stroke-width="1.2"/>
<text x="259.60" y="397.75" font-size="9.9" text-anchor="end" fill="#000" stroke="#000" stroke-width="0.25" textLength="5.0" lengthAdjust="spacingAndGlyphs">0</text>
<line x1="265.00" y1="386.90" x2="267.20" y2="386.90" stroke="#6a6a6a" stroke-width="0.9"/>
<line x1="265.00" y1="379.80" x2="267.20" y2="379.80" stroke="#6a6a6a" stroke-width="0.9"/>
<line x1="265.00" y1="372.70" x2="267.20" y2="372.70" stroke="#6a6a6a" stroke-width="0.9"/>
<line x1="265.00" y1="365.60" x2="267.20" y2="365.60" stroke="#6a6a6a" stroke-width="0.9"/>
<line x1="264.00" y1="358.50" x2="267.20" y2="358.50" stroke="#6a6a6a" stroke-width="1.2"/>
<text x="259.60" y="362.25" font-size="9.9" text-anchor="end" fill="#000" stroke="#000" stroke-width="0.25" textLength="5.0" lengthAdjust="spacingAndGlyphs">1</text>
<line x1="265.00" y1="351.40" x2="267.20" y2="351.40" stroke="#6a6a6a" stroke-width="0.9"/>
<line x1="265.00" y1="344.30" x2="267.20" y2="344.30" stroke="#6a6a6a" stroke-width="0.9"/>
<line x1="265.00" y1="337.20" x2="267.20" y2="337.20" stroke="#6a6a6a" stroke-width="0.9"/>
<line x1="265.00" y1="330.10" x2="267.20" y2="330.10" stroke="#6a6a6a" stroke-width="0.9"/>
<line x1="264.00" y1="323.00" x2="267.20" y2="323.00" stroke="#6a6a6a" stroke-width="1.2"/>
<text x="259.60" y="326.75" font-size="9.9" text-anchor="end" fill="#000" stroke="#000" stroke-width="0.25" textLength="5.0" lengthAdjust="spacingAndGlyphs">2</text>
<rect x="274.80" y="393.30" width="14.00" height="0.70" fill="#ffffff" stroke="#3a3a3a" stroke-width="0.9"/>
<line x1="312.10" y1="335.00" x2="312.10" y2="342.00" stroke="#555" stroke-width="1.0"/>
<line x1="307.40" y1="335.00" x2="316.80" y2="335.00" stroke="#555" stroke-width="1.1"/>
<rect x="306.00" y="342.00" width="12.20" height="52.00" fill="#8a8a8a" stroke="#3a3a3a" stroke-width="0.9"/>
<line x1="342.20" y1="345.50" x2="342.20" y2="351.90" stroke="#555" stroke-width="1.0"/>
<line x1="337.70" y1="345.50" x2="346.70" y2="345.50" stroke="#555" stroke-width="1.1"/>
<rect x="336.10" y="351.90" width="12.20" height="42.10" fill="#000000" stroke="#3a3a3a" stroke-width="0.9"/>
<text x="282.20" y="412.10" font-size="9.0" text-anchor="middle" font-weight="bold" fill="#000" stroke="#000" stroke-width="0.25">No</text>
<text x="282.20" y="423.20" font-size="9.0" text-anchor="middle" font-weight="bold" fill="#000" stroke="#000" stroke-width="0.25">virus</text>
<text x="311.90" y="412.10" font-size="9.0" text-anchor="middle" font-weight="bold" fill="#000" stroke="#000" stroke-width="0.25">MH-</text>
<text x="311.90" y="423.20" font-size="9.0" text-anchor="middle" font-weight="bold" fill="#000" stroke="#000" stroke-width="0.25">b12</text>
<text x="342.60" y="412.10" font-size="9.0" text-anchor="middle" font-weight="bold" fill="#000" stroke="#000" stroke-width="0.25">EEK-</text>
<text x="342.60" y="423.20" font-size="9.0" text-anchor="middle" font-weight="bold" fill="#000" stroke="#000" stroke-width="0.25">b12</text>
<text transform="translate(228.60,358.90) rotate(-90)" x="0" y="0" font-size="8.6" text-anchor="middle" font-weight="bold" fill="#000" stroke="#000" stroke-width="0.25">Provirus copy #</text>
<text transform="translate(239.60,357.60) rotate(-90)" x="0" y="0" font-size="8.7" text-anchor="middle" font-weight="bold" fill="#000" stroke="#000" stroke-width="0.25">per cell</text>
<rect x="428.90" y="322.80" width="90.30" height="83.40" fill="none" stroke="#6a6a6a" stroke-width="1.2"/>
<line x1="425.70" y1="406.20" x2="428.90" y2="406.20" stroke="#6a6a6a" stroke-width="1.2"/>
<text x="421.20" y="409.95" font-size="9.9" text-anchor="end" fill="#000" stroke="#000" stroke-width="0.25" textLength="5.0" lengthAdjust="spacingAndGlyphs">0</text>
<line x1="426.70" y1="396.93" x2="428.90" y2="396.93" stroke="#6a6a6a" stroke-width="0.9"/>
<line x1="426.70" y1="387.67" x2="428.90" y2="387.67" stroke="#6a6a6a" stroke-width="0.9"/>
<line x1="425.70" y1="378.40" x2="428.90" y2="378.40" stroke="#6a6a6a" stroke-width="1.2"/>
<text x="421.20" y="382.15" font-size="9.9" text-anchor="end" fill="#000" stroke="#000" stroke-width="0.25" textLength="5.0" lengthAdjust="spacingAndGlyphs">3</text>
<line x1="426.70" y1="369.13" x2="428.90" y2="369.13" stroke="#6a6a6a" stroke-width="0.9"/>
<line x1="426.70" y1="359.87" x2="428.90" y2="359.87" stroke="#6a6a6a" stroke-width="0.9"/>
<line x1="425.70" y1="350.60" x2="428.90" y2="350.60" stroke="#6a6a6a" stroke-width="1.2"/>
<text x="421.20" y="354.35" font-size="9.9" text-anchor="end" fill="#000" stroke="#000" stroke-width="0.25" textLength="5.0" lengthAdjust="spacingAndGlyphs">6</text>
<line x1="426.70" y1="341.33" x2="428.90" y2="341.33" stroke="#6a6a6a" stroke-width="0.9"/>
<line x1="426.70" y1="332.07" x2="428.90" y2="332.07" stroke="#6a6a6a" stroke-width="0.9"/>
<line x1="425.70" y1="322.80" x2="428.90" y2="322.80" stroke="#6a6a6a" stroke-width="1.2"/>
<text x="421.20" y="326.55" font-size="9.9" text-anchor="end" fill="#000" stroke="#000" stroke-width="0.25" textLength="5.0" lengthAdjust="spacingAndGlyphs">9</text>
<rect x="438.40" y="397.30" width="12.00" height="8.90" fill="#ffffff" stroke="#3a3a3a" stroke-width="0.9"/>
<line x1="440.40" y1="396.60" x2="448.80" y2="396.60" stroke="#555" stroke-width="1.2"/>
<line x1="474.40" y1="360.60" x2="474.40" y2="365.30" stroke="#555" stroke-width="1.0"/>
<line x1="470.00" y1="360.60" x2="478.80" y2="360.60" stroke="#555" stroke-width="1.1"/>
<rect x="468.30" y="365.30" width="12.20" height="40.90" fill="#8a8a8a" stroke="#3a3a3a" stroke-width="0.9"/>
<line x1="504.50" y1="337.50" x2="504.50" y2="343.80" stroke="#555" stroke-width="1.0"/>
<line x1="499.90" y1="337.50" x2="509.10" y2="337.50" stroke="#555" stroke-width="1.1"/>
<rect x="498.60" y="343.80" width="11.80" height="62.40" fill="#000000" stroke="#3a3a3a" stroke-width="0.9"/>
<text x="444.40" y="423.70" font-size="9.0" text-anchor="middle" font-weight="bold" fill="#000" stroke="#000" stroke-width="0.25">U</text>
<text x="473.60" y="423.70" font-size="9.0" text-anchor="middle" font-weight="bold" fill="#000" stroke="#000" stroke-width="0.25">MH</text>
<text x="504.60" y="423.70" font-size="9.0" text-anchor="middle" font-weight="bold" fill="#000" stroke="#000" stroke-width="0.25">EEK</text>
<text transform="translate(393.80,365.60) rotate(-90)" x="0" y="0" font-size="8.7" text-anchor="middle" font-weight="bold" fill="#000" stroke="#000" stroke-width="0.25">Relative GFP</text>
<text transform="translate(405.00,365.00) rotate(-90)" x="0" y="0" font-size="8.6" text-anchor="middle" font-weight="bold" fill="#000" stroke="#000" stroke-width="0.25">intensity</text>
</g>
</svg>
</body></html>
